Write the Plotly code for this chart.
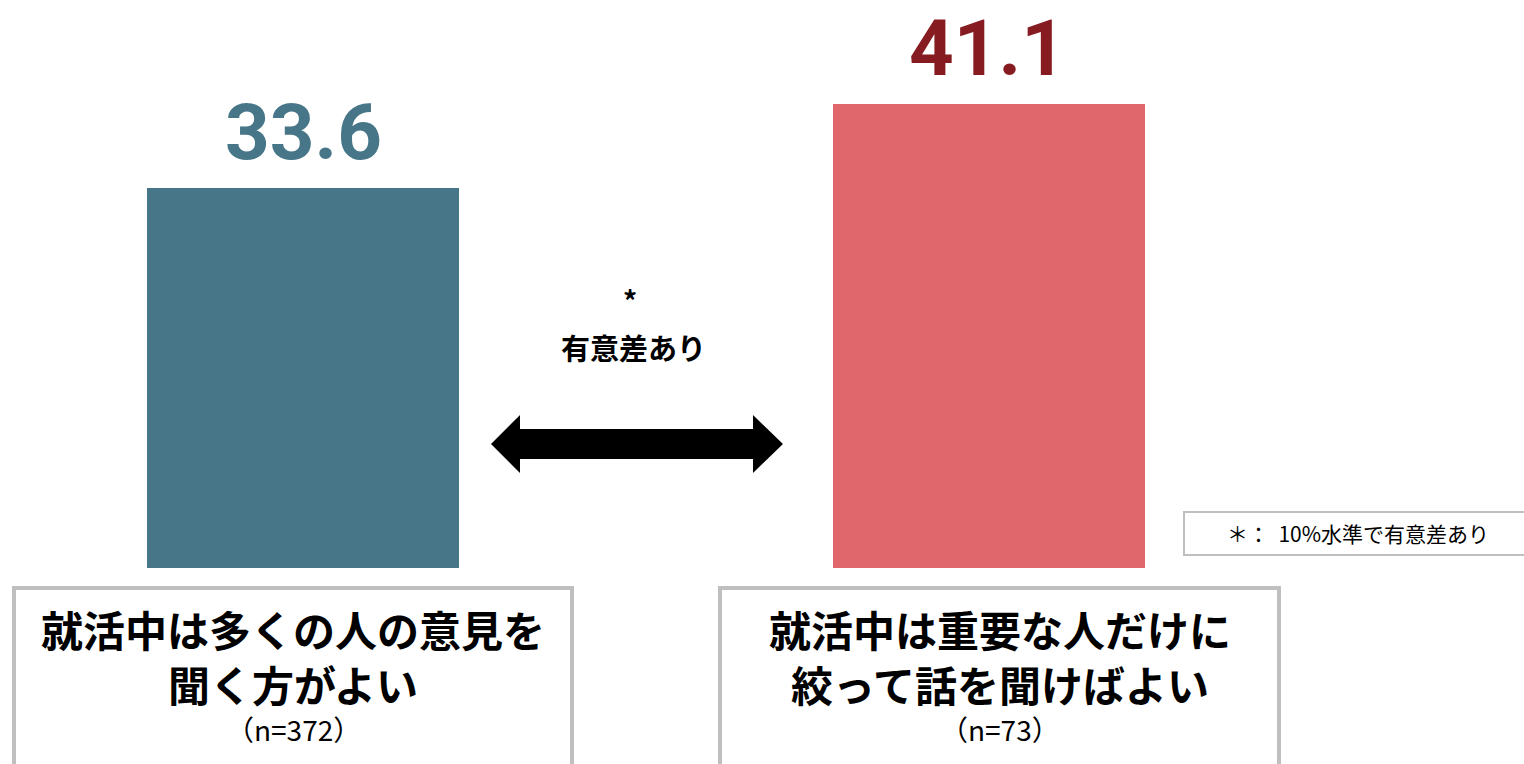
import plotly.graph_objects as go

# ---- data ----
cat_line1 = ["就活中は多くの人の意見を", "就活中は重要な人だけに"]
cat_line2 = ["聞く方がよい", "絞って話を聞けばよい"]
sample_sizes = ["（n=372）", "（n=73）"]
values = [33.6, 41.1]
bar_colors = ["#477688", "#E0686C"]
label_colors = ["#477688", "#861C22"]
sig_mark = "*"
sig_text = "有意差あり"
note_text = "＊：  10%水準で有意差あり"

W, H = 1524, 764
PLOT_BOTTOM = 568  # pixel row of y=0

def px(x):
    return x / W

def py(y):
    return (PLOT_BOTTOM - y) / PLOT_BOTTOM

xpos = [0, 1]

fig = go.Figure()
fig.add_trace(go.Bar(
    x=xpos, y=values, width=0.455,
    marker=dict(color=bar_colors, line=dict(width=0)),
    hoverinfo="skip", showlegend=False,
))

annotations = []
label_dx = [0.0, -0.002]
for i in range(2):
    annotations.append(dict(
        x=xpos[i] + label_dx[i], y=values[i], xref="x", yref="y",
        text=f"<b>{values[i]}</b>", showarrow=False, yanchor="bottom", xanchor="center", yshift=8,
        font=dict(family="Roboto, Noto Sans", size=78, color=label_colors[i]),
    ))

# category boxes (outer edges)
box_x = [(12, 574), (718, 1281)]
shapes = []
for (x0, x1) in box_x:
    shapes.append(dict(
        type="rect", xref="paper", yref="paper",
        x0=px(x0 + 2), x1=px(x1 - 2), y0=py(830), y1=py(588),
        line=dict(color="#BFBFBF", width=4), fillcolor="rgba(0,0,0,0)",
    ))
for i, (x0, x1) in enumerate(box_x):
    cx = px((x0 + x1) / 2)
    annotations.append(dict(x=cx, y=py(656), xref="paper", yref="paper",
                            text=f"<b>{cat_line1[i]}</b><br><b>{cat_line2[i]}</b>",
                            showarrow=False, yanchor="middle", xanchor="center", align="center",
                            font=dict(family="Noto Sans CJK JP", size=42, color="#000000")))
    annotations.append(dict(x=cx, y=py(729), xref="paper", yref="paper", text=sample_sizes[i],
                            showarrow=False, yanchor="middle", xanchor="center",
                            font=dict(family="Noto Sans CJK JP", size=28, color="#000000")))

# double arrow
pts = [(491, 444), (520, 415), (520, 429), (753, 429), (753, 415), (783, 444),
       (753, 473), (753, 459), (520, 459), (520, 473)]
path = "M " + " L ".join(f"{px(a):.5f},{py(b):.5f}" for a, b in pts) + " Z"
shapes.append(dict(type="path", xref="paper", yref="paper", path=path,
                   fillcolor="#000000", line=dict(color="#000000", width=0)))

annotations.append(dict(x=px(630), y=py(300), xref="paper", yref="paper", text=f"<b>{sig_mark}</b>",
                        showarrow=False, yanchor="middle", xanchor="center",
                        font=dict(family="Noto Sans CJK JP", size=28, color="#000000")))
annotations.append(dict(x=px(633), y=py(347), xref="paper", yref="paper", text=f"<b>{sig_text}</b>",
                        showarrow=False, yanchor="middle", xanchor="center",
                        font=dict(family="Noto Sans CJK JP", size=29, color="#000000")))

# note box
shapes.append(dict(type="rect", xref="paper", yref="paper",
                   x0=px(1184), x1=px(1540), y0=py(555), y1=py(512),
                   line=dict(color="#BFBFBF", width=2), fillcolor="#FFFFFF"))
annotations.append(dict(x=px(1358), y=py(533), xref="paper", yref="paper", text=note_text,
                        showarrow=False, yanchor="middle", xanchor="center",
                        font=dict(family="Noto Sans CJK JP", size=21, color="#000000")))

x_per_px = 1 / 686.0
fig.update_layout(
    width=W, height=H, autosize=False,
    margin=dict(l=0, r=0, t=0, b=H - PLOT_BOTTOM, pad=0),
    paper_bgcolor="#FFFFFF", plot_bgcolor="#FFFFFF",
    xaxis=dict(range=[-303 * x_per_px, (W - 303) * x_per_px], visible=False, fixedrange=True),
    yaxis=dict(range=[0, PLOT_BOTTOM / 11.3], visible=False, fixedrange=True),
    shapes=shapes, annotations=annotations,
    bargap=0,
)

fig.write_html("out.html")
